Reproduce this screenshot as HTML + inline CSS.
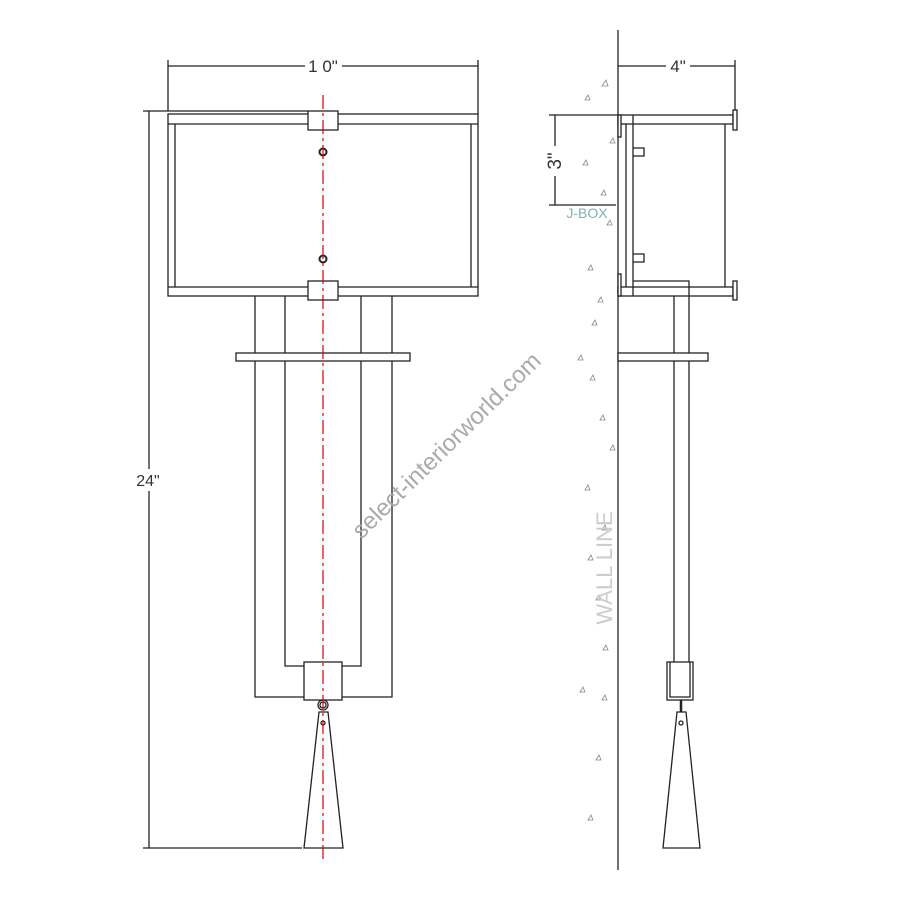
<!DOCTYPE html>
<html><head><style>
html,body{margin:0;padding:0;background:#fff;}
svg{display:block;}
text{font-family:"Liberation Sans",sans-serif;}
</style></head><body>
<svg width="900" height="900" viewBox="0 0 900 900" xmlns="http://www.w3.org/2000/svg">
<g stroke="#222" stroke-width="1.3" fill="none">
<line x1="168" y1="60" x2="168" y2="111"/>
<line x1="478" y1="60" x2="478" y2="114"/>
<line x1="168" y1="66" x2="305" y2="66"/>
<line x1="342" y1="66" x2="478" y2="66"/>
<line x1="143" y1="111" x2="308" y2="111"/>
<rect x="168" y="114" width="310" height="182"/>
<line x1="168" y1="124" x2="478" y2="124"/>
<line x1="168" y1="287" x2="478" y2="287"/>
<line x1="175" y1="124" x2="175" y2="287"/>
<line x1="471" y1="124" x2="471" y2="287"/>
<rect x="308" y="111" width="30" height="19" fill="#fff"/>
<rect x="308" y="281" width="30" height="19" fill="#fff"/>
<circle cx="323" cy="152" r="3.5" stroke-width="2"/>
<circle cx="323" cy="259" r="3.5" stroke-width="2"/>
<polyline points="255,296 255,697 304,697"/>
<polyline points="392,296 392,697 342,697"/>
<polyline points="285,296 285,666 304,666"/>
<polyline points="361,296 361,666 342,666"/>
<rect x="236" y="353" width="174" height="8" fill="#fff"/>
<rect x="304" y="662" width="38" height="38" fill="#fff"/>
<circle cx="323" cy="705" r="5"/>
<circle cx="323" cy="705" r="3"/>
<polygon points="319,712 328,712 343,848 304,848"/>
<circle cx="323" cy="723" r="2"/>
<line x1="149" y1="111" x2="149" y2="848"/>
<line x1="143" y1="848" x2="302" y2="848"/>
<line x1="618" y1="30" x2="618" y2="870"/>
<line x1="618" y1="66" x2="666" y2="66"/>
<line x1="690" y1="66" x2="735" y2="66"/>
<line x1="735" y1="60" x2="735" y2="112"/>
<rect x="618" y="115" width="115" height="9"/>
<rect x="618" y="287" width="115" height="9"/>
<line x1="626" y1="124" x2="626" y2="287"/>
<line x1="633" y1="115" x2="633" y2="296"/>
<line x1="725" y1="124" x2="725" y2="287"/>
<rect x="733" y="110" width="4" height="20" fill="#fff"/>
<rect x="733" y="281" width="4" height="19" fill="#fff"/>
<rect x="618" y="115" width="3" height="22" fill="#fff"/>
<rect x="618" y="274" width="3" height="22" fill="#fff"/>
<path d="M633,148 H644 V156 H633"/>
<path d="M633,254 H644 V262 H633"/>
<polyline points="633,281 689,281 689,665"/>
<line x1="674" y1="296" x2="674" y2="665"/>
<rect x="618" y="353" width="90" height="8" fill="#fff"/>
<rect x="667" y="662" width="26" height="38" fill="#fff"/>
<polyline points="670,662 670,697 690,697 690,662"/>
<line x1="681" y1="700" x2="681" y2="712" stroke-width="2.5"/>
<polygon points="677,712 686,712 700,848 663,848"/>
<circle cx="681" cy="723" r="2"/>
<line x1="549" y1="115" x2="618" y2="115"/>
<line x1="549" y1="205" x2="616" y2="205"/>
<line x1="555" y1="115" x2="555" y2="146"/>
<line x1="555" y1="176" x2="555" y2="205"/>
</g>
<line x1="323" y1="95" x2="323" y2="862" stroke="#d00" stroke-width="1.2" stroke-dasharray="14,4,3,4"/>
<g fill="none" stroke="#888" stroke-width="0.8">
<path d="M602,86 l4,-6 l2,6z M585,100 l3,-5 l2,5z M610,143 l3,-5 l2,5z M583,165 l3,-5 l2,5z M601,195 l3,-5 l2,5z M607,225 l3,-5 l2,5z M588,270 l3,-5 l2,5z M592,325 l3,-5 l2,5z M590,380 l3,-5 l2,5z M600,420 l3,-5 l2,5z M610,450 l3,-5 l2,5z M585,490 l3,-5 l2,5z M602,530 l3,-5 l2,5z M588,560 l3,-5 l2,5z M596,600 l3,-5 l2,5z M603,650 l3,-5 l2,5z M580,692 l3,-5 l2,5z M602,700 l3,-5 l2,5z M596,760 l3,-5 l2,5z M588,820 l3,-5 l2,5z M598,302 l3,-5 l2,5z M578,360 l3,-5 l2,5z"/>
</g>
<g font-size="17" fill="#333" text-anchor="middle">
<text x="323" y="72">1 0"</text>
<text x="678" y="72">4"</text>
<text transform="translate(561,161) rotate(-90)" font-size="19">3"</text>
</g>
<rect x="132" y="469" width="34" height="22" fill="#fff"/>
<text x="148" y="486" font-size="16" fill="#333" text-anchor="middle">24"</text>
<text x="587" y="218" font-size="14" fill="#7bb3b0" text-anchor="middle">J-BOX</text>
<text transform="translate(612,568) rotate(-90)" font-size="22" fill="#ccc" text-anchor="middle">WALL LINE</text>
<text transform="translate(452,451) rotate(-44.5)" font-size="24" fill="#aaa" text-anchor="middle">select-interiorworld.com</text>
</svg>
</body></html>
